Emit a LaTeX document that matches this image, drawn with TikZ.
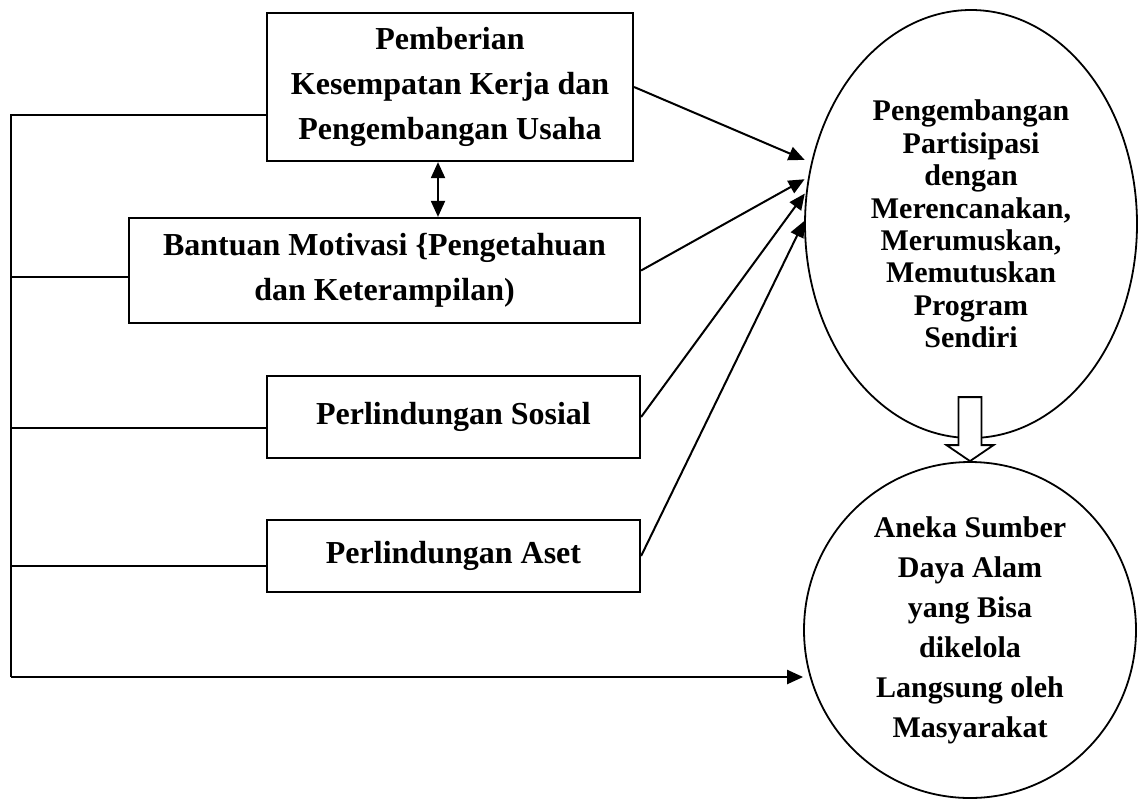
\documentclass[tikz,border=0pt]{standalone}
\usepackage{fontspec}
\setmainfont{Liberation Serif}
\usetikzlibrary{positioning}
\usetikzlibrary{arrows.meta,calc,shapes.geometric}

\begin{document}
\begin{tikzpicture}[x=1pt,y=-1pt,
  kotak/.style = {draw, line width=2.2pt, align=center, inner sep=0pt,
    font=\bfseries\fontsize{32}{45}\selectfont},
  lonjong/.style = {draw, ellipse, line width=1.8pt, align=center, inner sep=0pt,
    minimum width=332pt},
  panah/.style = {line width=2pt, -{Triangle[length=16pt,width=14pt]}},
  garis/.style = {line width=1.6pt}
  ]
  \useasboundingbox (0,0) rectangle (1147,798);
  % kotak-kotak di kiri
  \node[kotak, minimum width=366pt, minimum height=148pt] (kerja) at (450,87)
    {Pemberian\\Kesempatan Kerja dan\\Pengembangan Usaha};
  \node[kotak, minimum width=511pt, minimum height=105pt] (motivasi) at (384.5,270.5)
    {Bantuan Motivasi \{Pengetahuan\\dan Keterampilan)};
  \node[kotak, minimum width=373pt, minimum height=82pt] (sosial) at (453.5,417)
    {Perlindungan Sosial};
  \node[kotak, minimum width=373pt, minimum height=72pt] (aset) at (453.5,556)
    {Perlindungan Aset};
  % lingkaran di kanan
  \node[lonjong, minimum height=428pt, font=\bfseries\fontsize{30}{32.4}\selectfont]
    (partisipasi) at (971,224)
    {Pengembangan\\Partisipasi\\dengan\\Merencanakan,\\Merumuskan,\\Memutuskan\\Program\\Sendiri};
  \node[lonjong, minimum height=336pt, font=\bfseries\fontsize{30}{40}\selectfont]
    (sumber) at (970,630)
    {Aneka Sumber\\Daya Alam\\yang Bisa\\dikelola\\Langsung oleh\\Masyarakat};

  \draw[panah, shorten >=7pt] (kerja.east) -- (partisipasi.159);
  \draw[panah, shorten >=4pt] (motivasi.east) -- (partisipasi.164);
  \draw[panah, shorten >=2pt] (sosial.east) -- (partisipasi.169);
  \draw[panah] (aset.east) -- (partisipasi.179);
  \draw[line width=2pt, {Triangle[length=16pt,width=14pt]}-{Triangle[length=16pt,width=14pt]}]
    ([xshift=-12pt]kerja.south) -- ([xshift=-12pt]kerja.south |- motivasi.north);

  % garis kiri
  \coordinate (b1) at (11,115);
  \coordinate (b2) at (11,277);
  \coordinate (b3) at (11,428);
  \coordinate (b4) at (11,566);
  \coordinate (b5) at (11,677);
  \draw[garis] (kerja.west |- b1) -- (b1) -- (b5);
  \draw[garis] (b2) -- (motivasi.west |- b2);
  \draw[garis] (b3) -- (sosial.west |- b3);
  \draw[garis] (b4) -- (aset.west |- b4);
  \draw[panah, line width=2.2pt] (b5) -- (sumber.west |- b5);

  % panah kosong
  \draw[line width=1.8pt, fill=white] (sumber.north) -- ++(-23.5,-16) -- ++(12,0)
    -- ++(0,-48) -- ++(23,0) -- ++(0,48) -- ++(12,0) -- cycle;
\end{tikzpicture}
\end{document}
